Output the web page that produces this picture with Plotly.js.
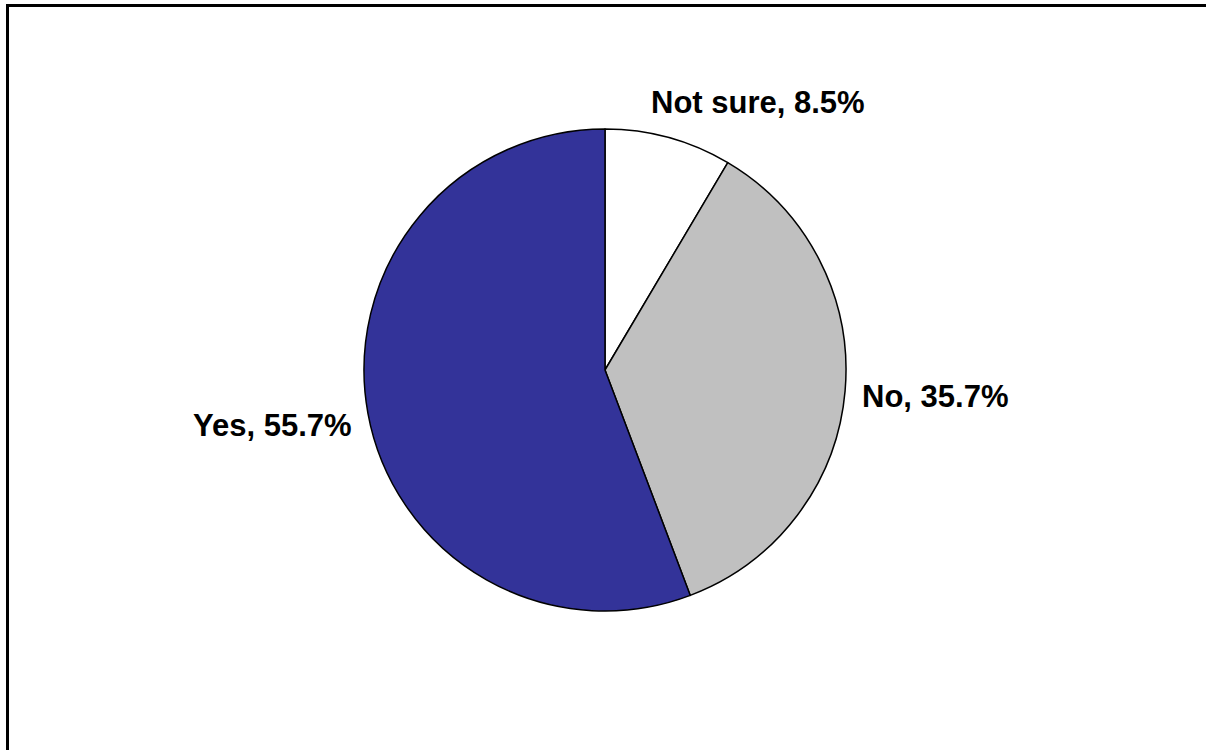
<!DOCTYPE html>
<html>
<head>
<meta charset="utf-8">
<script src="https://cdn.plot.ly/plotly-3.0.1.min.js"></script>
<style>
html,body{margin:0;padding:0;background:#fff;overflow:hidden;}
#wrap{position:relative;width:1206px;height:750px;}
#chart{position:absolute;left:0;top:0;width:1206px;height:750px;}
#frame{position:absolute;left:6px;top:4px;width:1300px;height:900px;border-top:3px solid #000;border-left:3px solid #000;pointer-events:none;}
</style>
</head>
<body>
<div id="wrap"><div id="chart"></div><div id="frame"></div></div>
<script>
const categories = ["Not sure", "No", "Yes"];
const values = [8.5, 35.7, 55.7];
const sliceColors = ["#FFFFFF", "#C0C0C0", "#333399"];

const W = 1206, H = 750;
const px = x => x / W;
const py = y => 1 - y / H;

// label positions in pixels (layout only)
const labelPos = [[757.5, 102], [934.7, 396], [272.5, 425.5]];

const trace = {
  type: "pie",
  labels: categories,
  values: values,
  sort: false,
  direction: "clockwise",
  rotation: 0,
  textinfo: "none",
  hoverinfo: "label+percent",
  marker: { colors: sliceColors, line: { color: "#000000", width: 1.5 } },
  domain: { x: [px(364), px(846)], y: [py(611), py(129)] },
  showlegend: false
};

const annotations = categories.map((c, i) => ({
  text: c + ", " + values[i].toFixed(1) + "%",
  x: px(labelPos[i][0]), y: py(labelPos[i][1]),
  xref: "paper", yref: "paper",
  xanchor: "center", yanchor: "middle",
  showarrow: false,
  font: { family: "Liberation Sans, Arial, sans-serif", size: 31, color: "#000000", weight: "bold" }
}));

const layout = {
  width: W, height: H,
  margin: { l: 0, r: 0, t: 0, b: 0 },
  paper_bgcolor: "rgba(0,0,0,0)",
  plot_bgcolor: "rgba(0,0,0,0)",
  annotations: annotations
};

Plotly.newPlot("chart", [trace], layout, { displayModeBar: false, staticPlot: true });
</script>
</body>
</html>
